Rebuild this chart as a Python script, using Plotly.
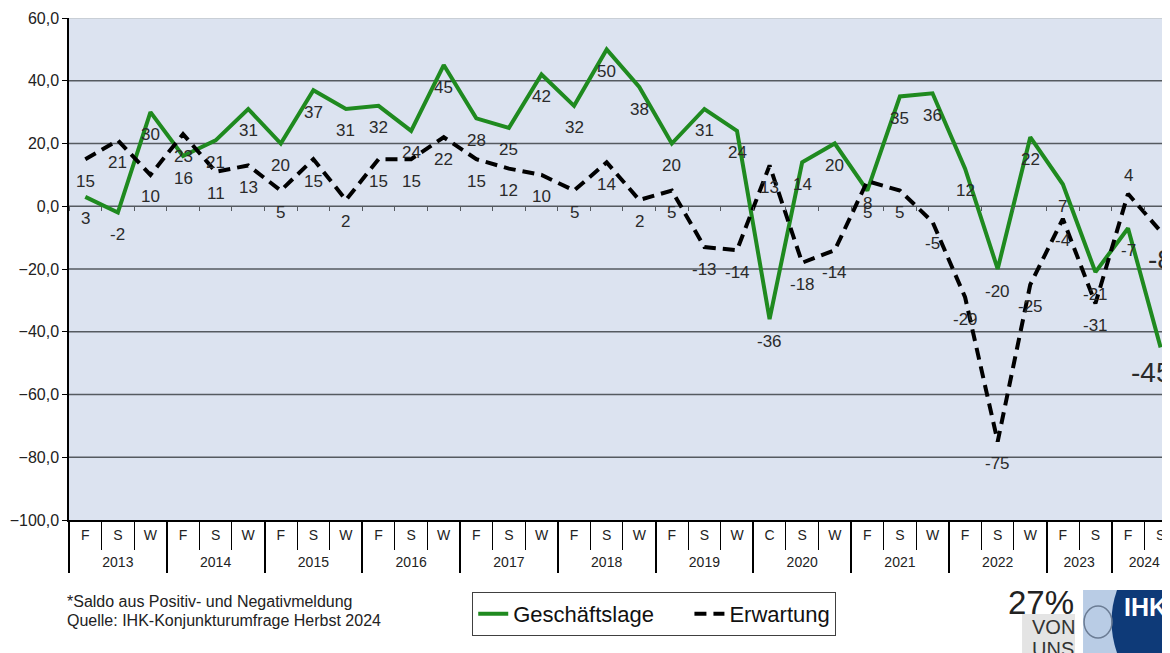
import plotly.graph_objects as go

# ---------------- data ----------------
years = ["2013", "2014", "2015", "2016", "2017", "2018", "2019", "2020",
         "2021", "2022", "2023", "2024"]
seasons_per_year = [["F", "S", "W"]] * 7 + [["C", "S", "W"]] + [["F", "S", "W"]] * 2 + [["F", "S"]] * 2

geschaeftslage = [3, -2, 30, 16, 21, 31, 20, 37, 31, 32, 24, 45, 28, 25, 42, 32, 50, 38,
                  20, 31, 24, -36, 14, 20, 5, 35, 36, 12, -20, 22, 7, -21, -7, -45]
erwartung = [15, 21, 10, 23, 11, 13, 5, 15, 2, 15, 15, 22, 15, 12, 10, 5, 14, 2,
             5, -13, -14, 13, -18, -14, 8, 5, -5, -29, -75, -25, -4, -31, 4, -8]

y_ticks = [-100, -80, -60, -40, -20, 0, 20, 40, 60]

# ---------------- derived categories ----------------
x_season = [s for ss in seasons_per_year for s in ss]
idx = list(range(len(x_season)))
boundaries = [i - 0.5 for i in range(len(idx) + 1)]
year_centers = []
year_bounds = [-0.5]
start = 0
for ss in seasons_per_year:
    year_centers.append(start + (len(ss) - 1) / 2)
    start += len(ss)
    year_bounds.append(start - 0.5)

# ---------------- layout geometry (pixels) ----------------
# the page body has an 8px margin, so the figure is 8px smaller and shifted
OFF = 8
W, H = 1170 - OFF, 653 - OFF
L, R, T, B = 68.5 - OFF, 0, 18 - OFF, 653 - 520
PW = W - L - R
PH = H - T - B
cat_w = 32.6
x_max = -0.5 + PW / cat_w


def px(xp):  # screenshot x -> paper fraction
    return (xp - OFF - L) / PW


def py(yp):  # screenshot y -> paper fraction
    return (H - B - (yp - OFF)) / PH


FONT = "Liberation Sans, Arial, sans-serif"
NBSP = "\u00a0"

fig = go.Figure()

fig.add_trace(go.Scatter(x=idx, y=geschaeftslage, mode="lines",
                         name="Geschäftslage" + NBSP * 5,
                         line=dict(color="#1f8a1f", width=4)))
fig.add_trace(go.Scatter(x=idx, y=erwartung, mode="lines",
                         name="Erwartung",
                         line=dict(color="#000000", width=4, dash="12px,7px")))
# invisible helpers so the extra axes are drawn
for ax in ["x3", "x4"]:
    fig.add_trace(go.Scatter(x=[0], y=[None], xaxis=ax, yaxis="y", showlegend=False,
                             hoverinfo="skip", mode="lines"))

# ---------------- grid lines ----------------
shapes = []
for v in y_ticks[1:-1]:
    shapes.append(dict(type="line", xref="paper", yref="y", x0=0, x1=1, y0=v, y1=v,
                       line=dict(color="#555a60", width=1.5), layer="below"))
shapes.append(dict(type="line", xref="paper", yref="y", x0=0, x1=1, y0=60, y1=60,
                   line=dict(color="#c3c8ce", width=1.5), layer="below"))

# ---------------- data labels ----------------
annotations = []
lab_font = dict(family=FONT, size=17, color="#2a2a2a")
big_font = dict(family=FONT, size=28, color="#2a2a2a")
shift_g = [-22] * len(idx)
shift_g[-1] = -25
shift_e = [-22] * len(idx)
shift_e[32] = 18
shift_e[33] = -28
xshift_g = [0] * len(idx)
xshift_g[-1] = -10
last = len(idx) - 1
for i, v in enumerate(geschaeftslage):
    annotations.append(dict(x=i, y=v, xref="x", yref="y", text=str(v), showarrow=False,
                            yshift=shift_g[i], xshift=xshift_g[i],
                            font=big_font if i == last else lab_font))
for i, v in enumerate(erwartung):
    annotations.append(dict(x=i, y=v, xref="x", yref="y", text=str(v), showarrow=False,
                            yshift=shift_e[i], font=big_font if i == last else lab_font))

# ---------------- footnote ----------------
foot_font = dict(family=FONT, size=16, color="#222222")
annotations.append(dict(xref="paper", yref="paper", x=px(64), y=py(601), xanchor="left",
                        yanchor="middle", showarrow=False, font=foot_font,
                        text="*Saldo aus Positiv- und Negativmeldung"))
annotations.append(dict(xref="paper", yref="paper", x=px(64), y=py(620), xanchor="left",
                        yanchor="middle", showarrow=False, font=foot_font,
                        text="Quelle: IHK-Konjunkturumfrage Herbst 2024"))

# ---------------- logo ----------------
shapes.append(dict(type="rect", xref="paper", yref="paper", x0=px(1022), x1=px(1075),
                   y0=py(653), y1=py(614), fillcolor="#e4e4e4", line=dict(width=0)))
shapes.append(dict(type="rect", xref="paper", yref="paper", x0=px(1083), x1=px(1125),
                   y0=py(653), y1=py(590), fillcolor="#b9cce5", line=dict(width=0)))
shapes.append(dict(type="path", xref="paper", yref="paper",
                   path="M {a},{b} Q {c},{d} {a},{e} L {f},{e} L {f},{b} Z".format(
                       a=px(1117), b=py(590), c=px(1106), d=py(621), e=py(653), f=px(1170)),
                   fillcolor="#0e3a78", line=dict(width=0)))
shapes.append(dict(type="circle", xref="paper", yref="paper", x0=px(1084), x1=px(1112),
                   y0=py(638), y1=py(606), line=dict(color="#6b7c94", width=1.5)))
logo_items = [
    ("27%", 1041, 602, "center", dict(family=FONT, size=33, color="#222222")),
    ("VON", 1053, 627, "center", dict(family=FONT, size=20, color="#333333")),
    ("UNS", 1053, 649, "center", dict(family=FONT, size=20, color="#333333")),
    ("<b>IHK</b>", 1122, 607, "left", dict(family=FONT, size=25, color="#ffffff")),
]
for txt, lx, ly, anc, fnt in logo_items:
    annotations.append(dict(xref="paper", yref="paper", x=px(lx), y=py(ly), xanchor=anc,
                            yanchor="middle", showarrow=False, text=txt, font=fnt))

fig.update_layout(
    width=W, height=H,
    margin=dict(l=L, r=R, t=T, b=B, pad=0, autoexpand=False),
    paper_bgcolor="#ffffff",
    plot_bgcolor="#dce3f0",
    separators=",.",
    font=dict(family=FONT, color="#222222"),
    xaxis=dict(range=[-0.5, x_max], showgrid=False, zeroline=False, automargin=False,
               showline=True, linecolor="#000000", linewidth=1.5,
               tickmode="array", tickvals=idx, ticktext=x_season, ticks="",
               ticklabelstandoff=1, tickfont=dict(size=14, color="#222222"),
               minor=dict(tickvals=boundaries, ticks="outside", ticklen=28,
                          tickcolor="#000000", tickwidth=1.2, showgrid=False)),
    xaxis3=dict(overlaying="x", range=[-0.5, x_max], showgrid=False, zeroline=False,
                automargin=False, showline=False, side="bottom", anchor="y",
                tickmode="array", tickvals=year_centers, ticktext=years, ticks="",
                ticklabelstandoff=32, tickfont=dict(size=14, color="#222222"),
                minor=dict(tickvals=year_bounds, ticks="outside", ticklen=52,
                           tickcolor="#000000", tickwidth=1.5, showgrid=False)),
    xaxis4=dict(overlaying="x", range=[-0.5, x_max], showgrid=False, zeroline=False,
                automargin=False, showline=False, side="bottom", anchor="free",
                position=(0 - (-100)) / (60 - (-100)), showticklabels=False,
                tickmode="array", tickvals=boundaries, ticks="outside", ticklen=4,
                tickcolor="#555a60", tickwidth=1.2),
    yaxis=dict(range=[-100, 60], tickvals=y_ticks, tickformat=".1f", showgrid=False,
               zeroline=False, showline=True, linecolor="#000000", linewidth=1.5,
               automargin=False, ticks="outside", ticklen=5, tickcolor="#000000",
               tickfont=dict(size=16, color="#222222")),
    legend=dict(orientation="h", x=px(654), xanchor="center", y=py(592), yanchor="top",
                bordercolor="#404040", borderwidth=1, bgcolor="#ffffff",
                font=dict(size=22, color="#111111")),
    shapes=shapes,
    annotations=annotations,
)

fig.write_html("out.html")
